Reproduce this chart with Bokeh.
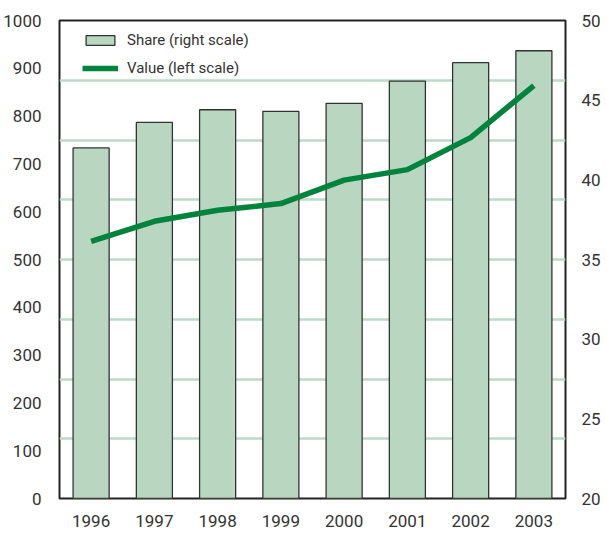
from bokeh.plotting import figure
from bokeh.models import Range1d, LinearAxis, FixedTicker, Legend, LegendItem, ColumnDataSource
from bokeh.embed import file_html
from bokeh.resources import INLINE

years = ["1996", "1997", "1998", "1999", "2000", "2001", "2002", "2003"]
share_right = [42.0, 43.6, 44.4, 44.3, 44.8, 46.2, 47.35, 48.1]
value_left = [538, 580, 603, 617, 666, 688, 755, 864]
left_ticks = [0, 100, 200, 300, 400, 500, 600, 700, 800, 900, 1000]
right_ticks = [20, 25, 30, 35, 40, 45, 50]
grid_ticks = [125, 250, 375, 500, 625, 750, 875]

FONT = "Roboto"
TXT = "#333333"

src = ColumnDataSource(dict(year=years, share=share_right, value=value_left))

p = figure(x_range=years, y_range=Range1d(0, 1000),
           frame_width=506, frame_height=478,
           output_backend="svg", toolbar_location=None,
           min_border_left=59, min_border_top=20, min_border_right=40, min_border_bottom=34)
p.extra_y_ranges = {"right": Range1d(20, 50)}

p.background_fill_color = "white"
p.border_fill_color = "white"
p.outline_line_color = "#222222"
p.outline_line_width = 2

p.xgrid.grid_line_color = None
p.ygrid.ticker = FixedTicker(ticks=grid_ticks)
p.ygrid.grid_line_color = "#bddbc6"
p.ygrid.grid_line_width = 2.5

bars = p.vbar(x="year", top="share", bottom=20, width=0.57, source=src,
              y_range_name="right", fill_color="#b9d6c1", line_color="#333333",
              line_width=1.3)
line = p.line(x="year", y="value", source=src, line_color="#00843d",
              line_width=5.5, line_join="round")

for ax in [p.yaxis[0], p.xaxis[0]]:
    ax.axis_line_color = None
    ax.major_tick_line_color = None
    ax.minor_tick_line_color = None
    ax.major_label_text_font = FONT
    ax.major_label_text_font_size = "17px"
    ax.major_label_text_color = TXT
    ax.major_label_standoff = 12

p.xaxis[0].major_label_standoff = 10
p.yaxis[0].ticker = FixedTicker(ticks=left_ticks)

ra = LinearAxis(y_range_name="right", ticker=FixedTicker(ticks=right_ticks))
ra.axis_line_color = None
ra.major_tick_line_color = None
ra.minor_tick_line_color = None
ra.major_label_text_font = FONT
ra.major_label_text_font_size = "17px"
ra.major_label_text_color = TXT
ra.major_label_standoff = 10
p.add_layout(ra, "right")

legend = Legend(items=[LegendItem(label="Share (right scale)", renderers=[bars]),
                       LegendItem(label="Value (left scale)", renderers=[line])],
                location=(23, 421), orientation="vertical",
                glyph_width=36, glyph_height=12, label_height=12, spacing=10,
                label_standoff=9, padding=0, margin=0,
                border_line_color=None, background_fill_alpha=0,
                label_text_font=FONT, label_text_font_size="15px",
                label_text_color=TXT)
p.add_layout(legend, "center")

open("out.html", "w").write(file_html(p, INLINE))
